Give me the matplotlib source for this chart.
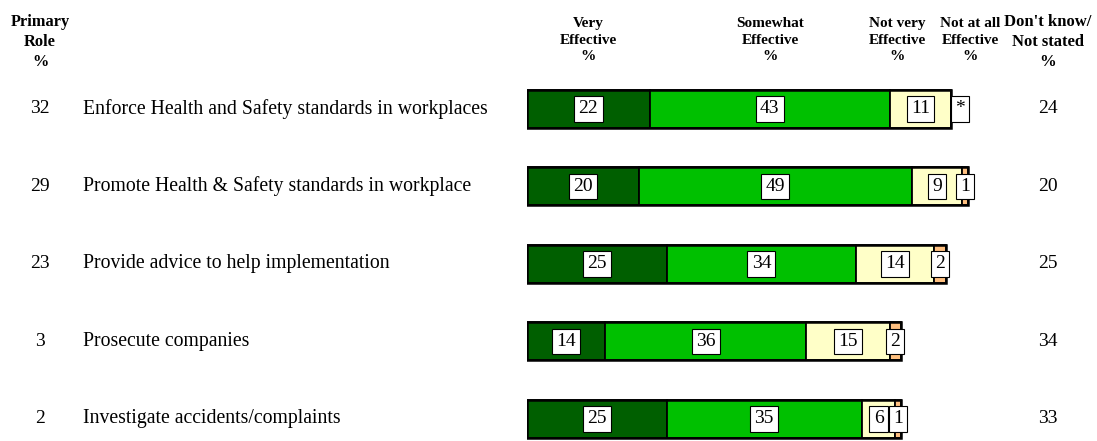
import numpy as np
import matplotlib.pyplot as plt
from matplotlib.transforms import blended_transform_factory

plt.rcParams['font.family'] = ['Liberation Serif', 'DejaVu Serif']

roles = ['Enforce Health and Safety standards in workplaces',
         'Promote Health & Safety standards in workplace',
         'Provide advice to help implementation',
         'Prosecute companies',
         'Investigate accidents/complaints']
primary = [32, 29, 23, 3, 2]
very = [22, 20, 25, 14, 25]
somewhat = [43, 49, 34, 36, 35]
not_very = [11, 9, 14, 15, 6]
not_at_all = [0, 1, 2, 2, 1]
not_at_all_lbl = ['*', '1', '2', '2', '1']
dont_know = [24, 20, 25, 34, 33]

colors = ['#005f00', '#00c000', '#ffffc8', '#ffc080']

fig = plt.figure(figsize=(10.97, 4.41), dpi=100)
ax = fig.add_axes([527/1097, 0, 558/1097, 1])
ax.set_xlim(0, 100)
ax.set_ylim(4.284, -1.406)
ax.axis('off')

y = np.arange(len(roles))
h = 0.49
series = [very, somewhat, not_very, not_at_all]
left = np.zeros(len(roles))
box = dict(boxstyle='square,pad=0.22', fc='white', ec='black', lw=0.8)
for k, vals in enumerate(series):
    vals = np.array(vals, dtype=float)
    ax.barh(y, vals, left=left, height=h, color=colors[k], edgecolor='black', lw=1.3)
    for i in range(len(roles)):
        if k < 3:
            lbl = str(int(vals[i]))
        else:
            lbl = not_at_all_lbl[i]
        xc = left[i] + vals[i] / 2
        if lbl == '*':
            xc += 1.6
        ax.text(xc, y[i], lbl, ha='center', va='center', fontsize=14, bbox=box)
    left += vals

# outer outline of each bar
ax.barh(y, left, height=h, fill=False, edgecolor='black', lw=1.8)

tr = blended_transform_factory(fig.transFigure, ax.transData)
for i in range(len(roles)):
    ax.text(40/1097, y[i], str(primary[i]), transform=tr, ha='center', va='center', fontsize=14)
    ax.text(83/1097, y[i], roles[i], transform=tr, ha='left', va='center', fontsize=14.2)
    ax.text(1048/1097, y[i], str(dont_know[i]), transform=tr, ha='center', va='center', fontsize=14)

headers = [('Primary\nRole\n%', 40, 14, 11.8),
           ('Very\nEffective\n%', 588, 17, 11),
           ('Somewhat\nEffective\n%', 770, 17, 11),
           ('Not very\nEffective\n%', 897, 17, 11),
           ('Not at all\nEffective\n%', 970, 17, 11),
           ("Don't know/\nNot stated\n%", 1048, 14, 12)]
for txt, px, py, fs in headers:
    fig.text(px/1097, 1 - py/441, txt, ha='center', va='top', fontsize=fs,
             fontweight='bold', linespacing=1.35)

fig.savefig('out.png', dpi=100)
